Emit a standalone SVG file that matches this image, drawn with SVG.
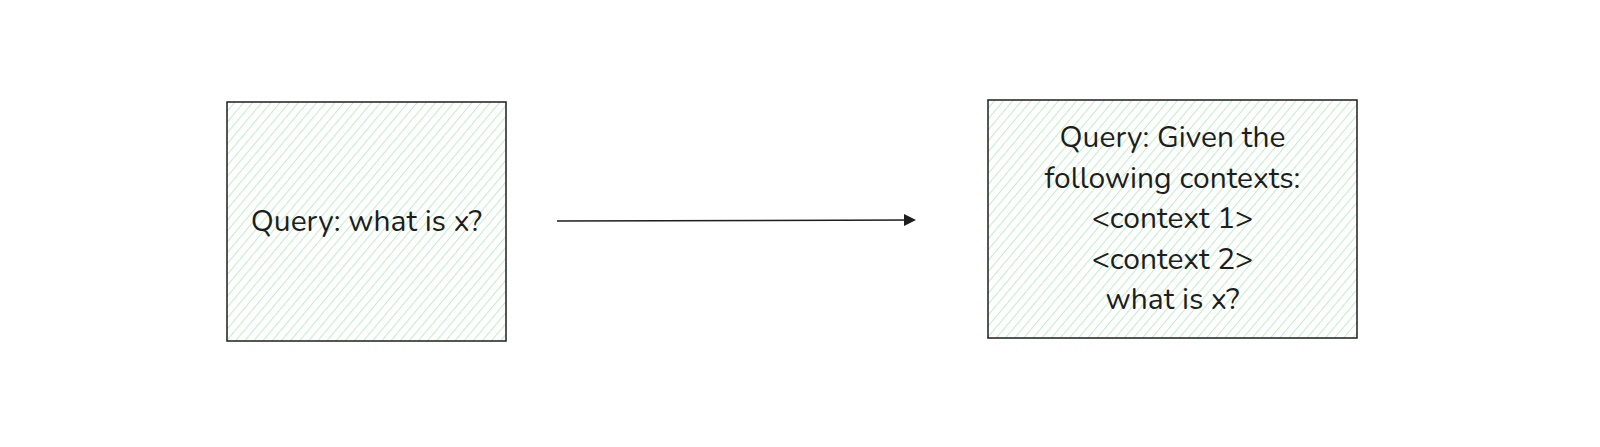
<svg xmlns="http://www.w3.org/2000/svg" width="1600" height="447" viewBox="0 0 1600 447">
<style>
.box{stroke:#1e1e1e;stroke-width:1.5;}
.lbl{font-family:"Nunito","Lato","Noto Sans",sans-serif;font-size:30px;fill:#1e1e1e;text-anchor:middle;}
.edge{stroke:#1e1e1e;stroke-width:1.5;fill:none;}
</style>
<defs>
<pattern id="hatch" patternUnits="userSpaceOnUse" width="7" height="7" patternTransform="rotate(40)">
<line x1="0" y1="0" x2="0" y2="7" stroke="#a5e8b0" stroke-width="1.4"/>
</pattern>
<marker id="arr" markerWidth="12" markerHeight="12" refX="10" refY="6" orient="auto" markerUnits="userSpaceOnUse">
<path d="M0,0 L12,6 L0,12 Z" fill="#1e1e1e"/>
</marker>
</defs>
<rect width="1600" height="447" fill="#ffffff"/>
<g id="node-query">
<rect class="box" x="227" y="102" width="279" height="239" fill="url(#hatch)"/>
<text class="lbl" x="366.5" y="231">Query: what is x?</text>
</g>
<g id="node-augmented">
<rect class="box" x="988" y="100" width="369" height="238" fill="url(#hatch)"/>
<text class="lbl" x="1172.5" y="147">Query: Given the</text>
<text class="lbl" x="1172.5" y="188">following contexts:</text>
<text class="lbl" x="1172.5" y="228">&lt;context 1&gt;</text>
<text class="lbl" x="1172.5" y="269">&lt;context 2&gt;</text>
<text class="lbl" x="1172.5" y="309">what is x?</text>
</g>
<g id="connectors">
<path class="edge" d="M557,221 L914,220" marker-end="url(#arr)"/>
</g>
</svg>
